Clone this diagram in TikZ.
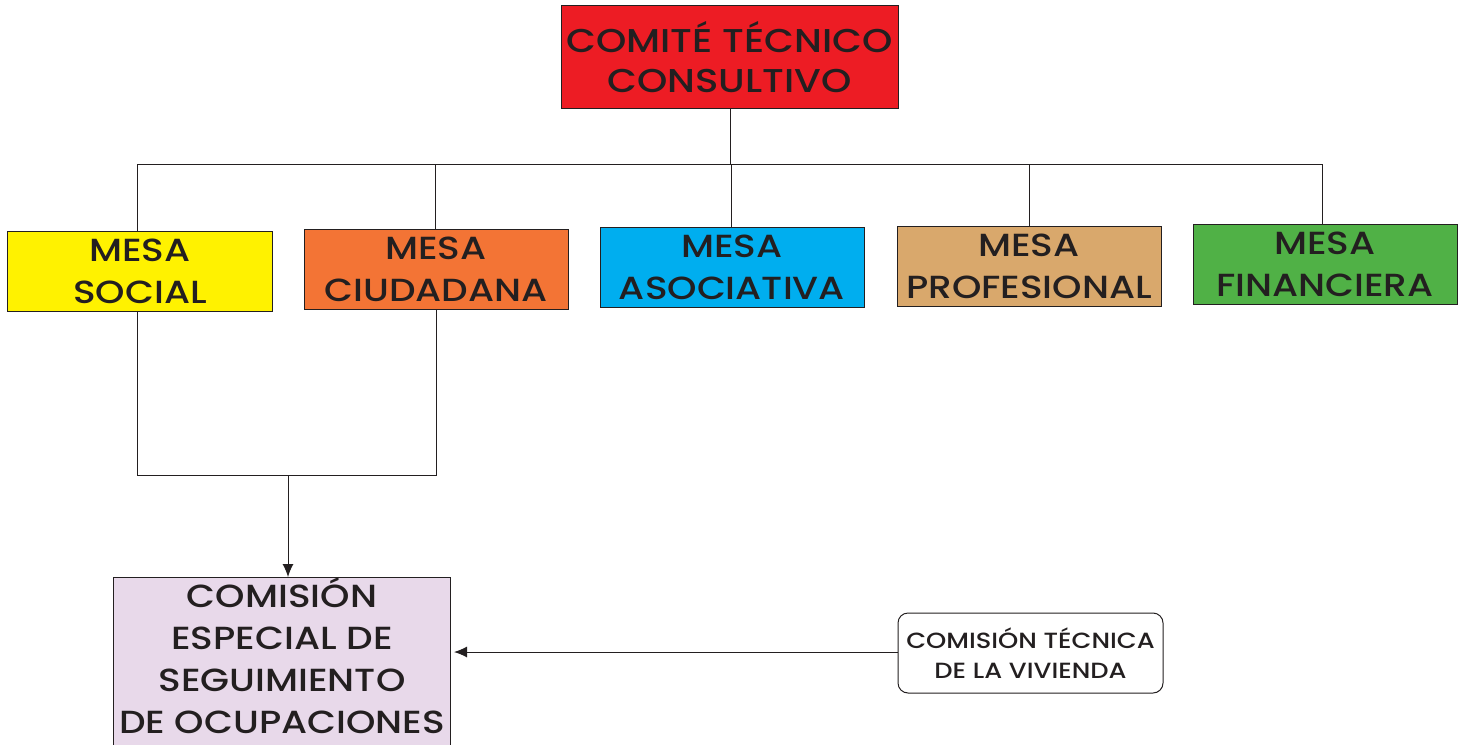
\documentclass[tikz,border=0pt]{standalone}
\usepackage{fontspec}
\setmainfont{Poppins Medium}[FakeStretch=1.17]
\usetikzlibrary{arrows.meta}
\definecolor{ink}{HTML}{231F20}
\definecolor{cred}{HTML}{ED1C24}
\definecolor{cyel}{HTML}{FFF200}
\definecolor{cora}{HTML}{F37435}
\definecolor{cblu}{HTML}{00AEEF}
\definecolor{ctan}{HTML}{D9A86C}
\definecolor{cgrn}{HTML}{50B146}
\definecolor{clil}{HTML}{E8D9EA}
\tikzset{
  box/.style={draw=ink, line width=1bp, inner sep=0pt, align=center, text=ink},
  mesa/.style={box, minimum width=264bp, minimum height=80bp, font=\fontsize{32bp}{42bp}\selectfont},
  conn/.style={draw=ink, line width=1bp},
  arr/.style={conn, -{Latex[length=13bp,width=11bp]}}
}
\begin{document}
\begin{tikzpicture}[x=1bp,y=-1bp]
\useasboundingbox (0,0) rectangle (1467,744);
\node[box, fill=cred, minimum width=337bp, minimum height=102bp, font=\fontsize{33bp}{40bp}\selectfont] (top) at (729.5,57) {COMITÉ TÉCNICO\\CONSULTIVO};
\node[mesa, fill=cyel] (social) at (140,271) {MESA\\SOCIAL};
\node[mesa, fill=cora] (ciud) at (436,269) {MESA\\CIUDADANA};
\node[mesa, fill=cblu] (asoc) at (732,267) {MESA\\ASOCIATIVA};
\node[mesa, fill=ctan] (prof) at (1029,266) {MESA\\PROFESIONAL};
\node[mesa, fill=cgrn] (fin) at (1325,264) {MESA\\FINANCIERA};
\node[box, fill=clil, minimum width=336bp, minimum height=168bp, anchor=north] (cese) at (282,577) {};
\node[align=center, text=ink, inner sep=0pt, anchor=north, font=\fontsize{32bp}{42bp}\selectfont] (cesetext) at (282,577) {COMISIÓN\\ESPECIAL DE\\SEGUIMIENTO\\DE OCUPACIONES};
\node[box, rounded corners=10bp, fill=white, minimum width=265bp, minimum height=80bp, font=\fontsize{22bp}{30bp}\selectfont] (ctv) at (1030.5,653) {COMISIÓN TÉCNICA\\DE LA VIVIENDA};
\coordinate (hub) at (730,164);
\coordinate (jL) at (137,164);
\coordinate (jR) at (1322,164);
\draw[conn] (top.south -| hub) -- (hub);
\draw[conn] (jL) -- (jR);
\draw[conn] (jL) -- (jL |- social.north);
\draw[conn] (435,164) -- (435,229);
\draw[conn] (731,164) -- (731,227);
\draw[conn] (1029,164) -- (1029,226);
\draw[conn] (jR) -- (jR |- fin.north);
\coordinate (bL) at (137,475);
\coordinate (bR) at (436,475);
\coordinate (bM) at (288,475);
\draw[conn] (bL |- social.south) -- (bL) -- (bR) -- (bR |- ciud.south);
\draw[arr] (bM) -- (bM |- cese.north);
\coordinate (tipE) at (454,652);
\draw[arr] (ctv.west |- tipE) -- (tipE);
\end{tikzpicture}
\end{document}
